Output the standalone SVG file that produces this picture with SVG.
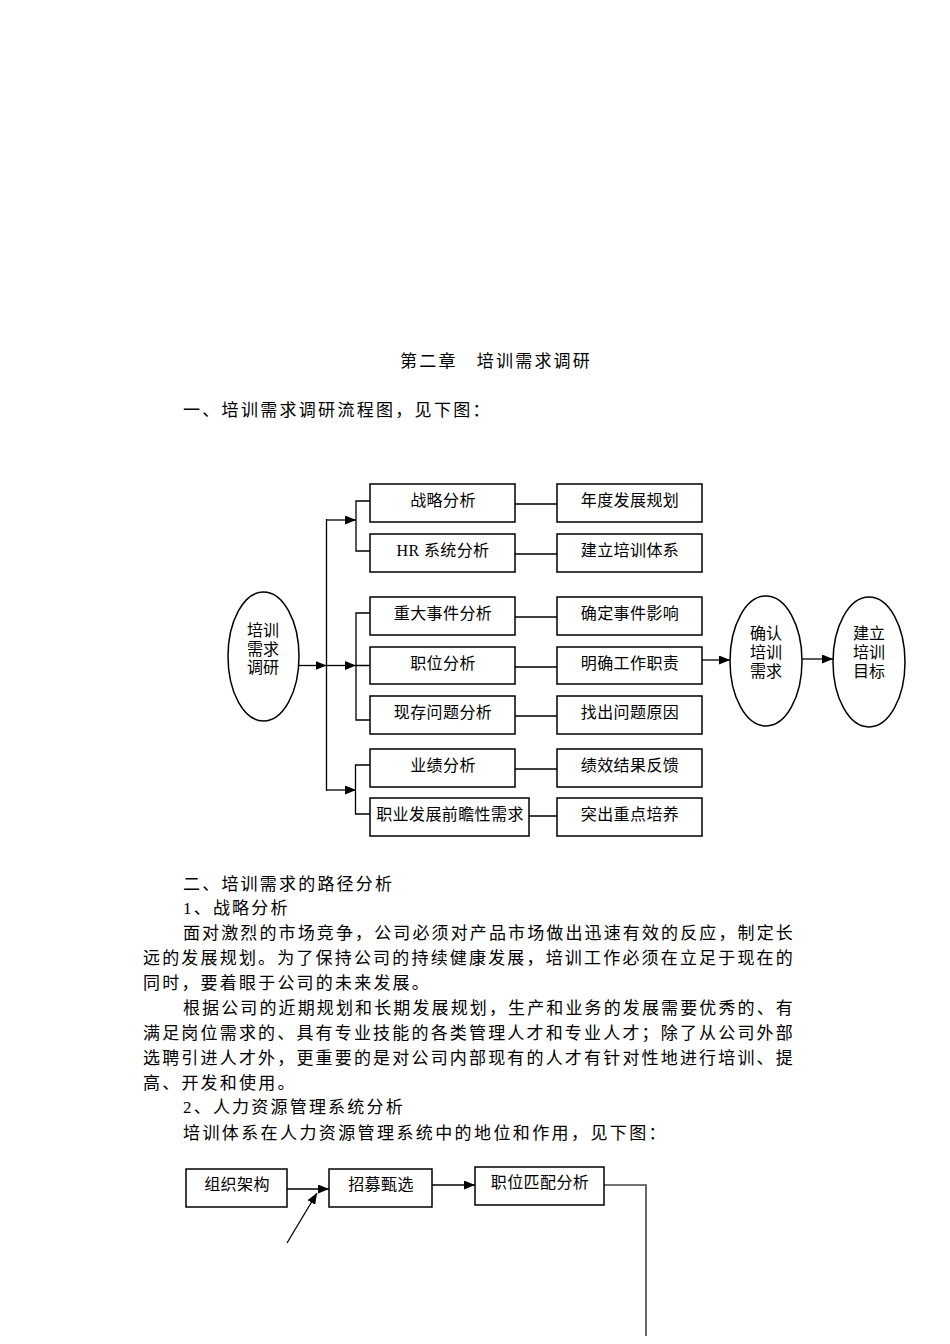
<svg xmlns="http://www.w3.org/2000/svg" width="950" height="1344" viewBox="0 0 950 1344">
<style>
text{font-family:"Liberation Serif","Noto Sans CJK SC",serif;fill:#000}
.body{font-size:17px;letter-spacing:2.2px}
.bx{font-size:16px;letter-spacing:0.4px;text-anchor:middle}
.el{font-size:16px;letter-spacing:0px;text-anchor:middle}
.box{fill:#fff;stroke:#000;stroke-width:1.5}
.ln{fill:none;stroke:#000;stroke-width:1.3}
.ar{fill:none;stroke:#000;stroke-width:1.3;marker-end:url(#arr)}
</style>
<defs>
<marker id="arr" markerUnits="userSpaceOnUse" markerWidth="11" markerHeight="9" refX="11" refY="4.5" orient="auto">
<path d="M0,0 L11,4.5 L0,9 z" fill="#000"/>
</marker>
</defs>
<rect width="950" height="1344" fill="#fff"/>

<g id="texts">
<text class="body" x="400" y="367">第二章　培训需求调研</text>
<text class="body" x="183" y="416" style="letter-spacing:2.3px">一、培训需求调研流程图，见下图：</text>
<text class="body" x="183" y="890">二、培训需求的路径分析</text>
<text class="body" x="183" y="914">1、战略分析</text>
<text class="body" x="183" y="939" textLength="612" lengthAdjust="spacing">面对激烈的市场竞争，公司必须对产品市场做出迅速有效的反应，制定长</text>
<text class="body" x="143" y="964" textLength="652" lengthAdjust="spacing">远的发展规划。为了保持公司的持续健康发展，培训工作必须在立足于现在的</text>
<text class="body" x="143" y="989">同时，要着眼于公司的未来发展。</text>
<text class="body" x="183" y="1014" textLength="612" lengthAdjust="spacing">根据公司的近期规划和长期发展规划，生产和业务的发展需要优秀的、有</text>
<text class="body" x="143" y="1039" textLength="652" lengthAdjust="spacing">满足岗位需求的、具有专业技能的各类管理人才和专业人才；除了从公司外部</text>
<text class="body" x="143" y="1064" textLength="652" lengthAdjust="spacing">选聘引进人才外，更重要的是对公司内部现有的人才有针对性地进行培训、提</text>
<text class="body" x="143" y="1089">高、开发和使用。</text>
<text class="body" x="183" y="1113">2、人力资源管理系统分析</text>
<text class="body" x="183" y="1139" style="letter-spacing:2.4px">培训体系在人力资源管理系统中的地位和作用，见下图：</text>
</g>

<g id="connectors">
<path class="ar" d="M299,665.5 H326.5"/>
<path class="ln" d="M326.5,519 V791"/>
<path class="ar" d="M326.5,520 H356"/>
<path class="ar" d="M326.5,665.5 H356"/>
<path class="ar" d="M326.5,790 H356"/>
<path class="ln" d="M370,501 H356 V551 H370"/>
<path class="ln" d="M370,613 H356 V720 H370 M356,665.5 H370"/>
<path class="ln" d="M370,765 H355.5 V814 H370"/>
<path class="ln" d="M515,504 H557 M515,554 H557 M515,617 H557 M515,667 H557 M515,716 H557 M515,769 H557 M529,816 H557"/>
<path class="ar" d="M702,660 H730"/>
<path class="ar" d="M802,659 H833"/>
<path class="ar" d="M287,1189 H329"/>
<path class="ar" d="M432,1185 H475"/>
<path class="ar" d="M287,1243 L317,1193"/>
<path class="ln" d="M604,1185 H646 V1336" style="stroke:#444;stroke-width:1.6"/>
</g>

<g id="n-peixun"><ellipse class="box" cx="263.5" cy="656.5" rx="35.5" ry="64.5"/>
<text class="el" x="263" y="636">培训</text><text class="el" x="263" y="655">需求</text><text class="el" x="263" y="673">调研</text></g>

<g id="n-zhanlue"><rect class="box" x="370" y="484" width="145" height="38"/><text class="bx" x="443" y="506">战略分析</text></g>
<g id="n-hr"><rect class="box" x="370" y="534" width="145" height="38"/><text class="bx" x="443" y="556">HR 系统分析</text></g>
<g id="n-zhongda"><rect class="box" x="370" y="597" width="145" height="38"/><text class="bx" x="443" y="619">重大事件分析</text></g>
<g id="n-zhiwei"><rect class="box" x="370" y="647" width="145" height="37"/><text class="bx" x="443" y="669">职位分析</text></g>
<g id="n-xiancun"><rect class="box" x="370" y="696" width="145" height="38"/><text class="bx" x="443" y="718">现存问题分析</text></g>
<g id="n-yeji"><rect class="box" x="370" y="749" width="145" height="38"/><text class="bx" x="443" y="771">业绩分析</text></g>
<g id="n-zhiye"><rect class="box" x="370" y="798" width="159" height="38"/><text class="bx" x="450" y="820">职业发展前瞻性需求</text></g>

<g id="n-niandu"><rect class="box" x="557" y="484" width="145" height="38"/><text class="bx" x="630" y="506">年度发展规划</text></g>
<g id="n-jianli"><rect class="box" x="557" y="534" width="145" height="38"/><text class="bx" x="630" y="556">建立培训体系</text></g>
<g id="n-queding"><rect class="box" x="557" y="597" width="145" height="38"/><text class="bx" x="630" y="619">确定事件影响</text></g>
<g id="n-mingque"><rect class="box" x="557" y="647" width="145" height="37"/><text class="bx" x="630" y="669">明确工作职责</text></g>
<g id="n-zhaochu"><rect class="box" x="557" y="696" width="145" height="38"/><text class="bx" x="630" y="718">找出问题原因</text></g>
<g id="n-jixiao"><rect class="box" x="557" y="749" width="145" height="38"/><text class="bx" x="630" y="771">绩效结果反馈</text></g>
<g id="n-tuchu"><rect class="box" x="557" y="798" width="145" height="38"/><text class="bx" x="630" y="820">突出重点培养</text></g>

<g id="n-queren"><ellipse class="box" cx="766" cy="661" rx="36" ry="65"/>
<text class="el" x="766" y="639">确认</text><text class="el" x="766" y="658">培训</text><text class="el" x="766" y="677">需求</text></g>
<g id="n-mubiao"><ellipse class="box" cx="869" cy="662" rx="36" ry="65"/>
<text class="el" x="869" y="639">建立</text><text class="el" x="869" y="658">培训</text><text class="el" x="869" y="677">目标</text></g>

<g id="n-zuzhi"><rect class="box" x="186" y="1169" width="101" height="38"/><text class="bx" x="237" y="1190">组织架构</text></g>
<g id="n-zhaomu"><rect class="box" x="329" y="1169" width="103" height="38"/><text class="bx" x="381" y="1190">招募甄选</text></g>
<g id="n-pipei"><rect class="box" x="475" y="1167" width="129" height="38"/><text class="bx" x="540" y="1188">职位匹配分析</text></g>
</svg>
